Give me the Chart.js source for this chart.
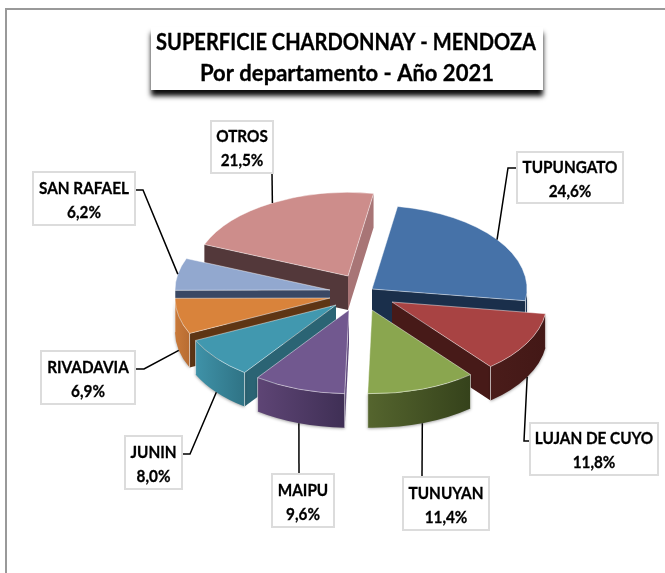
<!DOCTYPE html>
<html lang="es">
<head>
<meta charset="UTF-8">
<title>Superficie Chardonnay - Mendoza</title>
<script src="https://cdn.jsdelivr.net/npm/chart.js"></script>
<style>
    html, body { margin: 0; background: #fff; }
    #wrap { width: 665px; height: 573px; position: relative; }
</style>
</head>
<body>
<div id="wrap"><canvas id="pie3d" width="665" height="573"></canvas></div>
<script>
const departamentos = ['TUPUNGATO', 'LUJAN DE CUYO', 'TUNUYAN', 'MAIPU', 'JUNIN', 'RIVADAVIA', 'SAN RAFAEL', 'OTROS'];
const superficie = [24.6, 11.8, 11.4, 9.6, 8.0, 6.9, 6.2, 21.5];
const tituloLineas = ['SUPERFICIE CHARDONNAY - MENDOZA', 'Por departamento - Año 2021'];

// colours for the top face and the sides of each slice
const topColors = ['#4672a8', '#a84343', '#8aa64f', '#71588f', '#4198af', '#d9833b', '#92a8cf', '#cd8d8b'];
const wallStart = ['#1a2f4b', '#471a18', '#3a4720', '#5a4478', '#2b6474', '#5e3514', '#3a4864', '#53383a'];
const wallEnd = ['#1a2f4b', '#471a18', '#3a4720', '#5a4478', '#2b6474', '#5e3514', '#3a4864', '#a87576'];
const outerLight = ['#24446b', '#4a1c1a', '#55652e', '#5e4575', '#3f92a8', '#c97a3a', '#3a4864', '#a87576'];
const outerDark = ['#1a2f4b', '#431816', '#35421b', '#3f2f55', '#2f7385', '#b86c32', '#3a4864', '#a87576'];

// how far each slice is pulled away from the pie centre, in screen px
const explode = [[7, -5], [27, 8], [7, 16], [-16, 16], [-29, 11], [-35, 4], [-35, -4], [-17, -18]];

const SQUASH = 0.54;
const DEPTH = 34;
const FONT = 'Lato, "Noto Sans", sans-serif';
const TEXT_NARROW = 0.9;

// label boxes: x, y, w, h, then the leader line bend points
const labelBoxes = [
    { x: 517, y: 152, w: 106, h: 51, line: [[517, 168], [508, 168]] },
    { x: 530, y: 423, w: 128, h: 52, line: [[530, 441], [524, 441]] },
    { x: 403, y: 477, w: 86, h: 53, line: [[422, 477]] },
    { x: 272, y: 474, w: 62, h: 53, line: [[299, 474]] },
    { x: 125, y: 436, w: 57, h: 53, line: [[182, 454], [190, 454]] },
    { x: 41, y: 351, w: 94, h: 53, line: [[135, 369], [144, 369]] },
    { x: 33, y: 172, w: 102, h: 53, line: [[135, 190], [143, 190]] },
    { x: 211, y: 121, w: 62, h: 52, line: [[272, 173]] }
];

function pct(v) {
    return v.toFixed(1).replace('.', ',') + '%';
}

// screen position of a point on a slice, radius r at angle a
function project(arc, off, a, r, drop) {
    return [
        arc.x + off[0] + r * Math.cos(a),
        arc.y + off[1] + SQUASH * r * Math.sin(a) + (drop || 0)
    ];
}

function radialWall(ctx, arc, off, a, color) {
    const p0 = project(arc, off, a, 0);
    const p1 = project(arc, off, a, arc.outerRadius);
    ctx.fillStyle = color;
    ctx.beginPath();
    ctx.moveTo(p0[0], p0[1]);
    ctx.lineTo(p1[0], p1[1]);
    ctx.lineTo(p1[0], p1[1] + DEPTH);
    ctx.lineTo(p0[0], p0[1] + DEPTH);
    ctx.closePath();
    ctx.fill();
}

function outerWall(ctx, arc, off, i) {
    const a1 = Math.max(arc.startAngle, 0);
    const a2 = Math.min(arc.endAngle, Math.PI);
    if (a2 <= a1) return;
    const c = project(arc, off, 0, 0);
    const r = arc.outerRadius;
    const left = c[0] + r * Math.cos(a2);
    const right = c[0] + r * Math.cos(a1);
    const grad = ctx.createLinearGradient(left, 0, right, 0);
    grad.addColorStop(0, outerLight[i]);
    grad.addColorStop(1, outerDark[i]);
    ctx.save();
    ctx.shadowColor = 'rgba(0,0,0,0.35)';
    ctx.shadowBlur = 3;
    ctx.shadowOffsetY = 1;
    ctx.fillStyle = grad;
    ctx.beginPath();
    ctx.ellipse(c[0], c[1], r, r * SQUASH, 0, a1, a2);
    ctx.ellipse(c[0], c[1] + DEPTH, r, r * SQUASH, 0, a2, a1, true);
    ctx.closePath();
    ctx.fill();
    ctx.restore();
    // thin light edge where the side meets a radial wall
    ctx.strokeStyle = 'rgba(255,255,255,0.55)';
    ctx.lineWidth = 1;
    [a1, a2].forEach(a => {
        if (a !== arc.startAngle && a !== arc.endAngle) return;
        const p = project(arc, off, a, r);
        ctx.beginPath();
        ctx.moveTo(p[0], p[1]);
        ctx.lineTo(p[0], p[1] + DEPTH);
        ctx.stroke();
    });
}

// bold text squeezed a little, the original face is narrower than Lato
function label(ctx, text, x, y) {
    ctx.save();
    ctx.translate(x, y);
    ctx.scale(TEXT_NARROW, 1);
    ctx.fillText(text, 0, 0);
    ctx.strokeText(text, 0, 0);
    ctx.restore();
}

const pie3dPlugin = {
    id: 'pie3d',
    beforeDatasetsDraw(chart) {
        const ctx = chart.ctx;
        const arcs = chart.getDatasetMeta(0).data;
        const midSin = arc => Math.sin((arc.startAngle + arc.endAngle) / 2);

        // sides first, back to front
        const order = arcs.map((a, i) => i).sort((p, q) => midSin(arcs[p]) - midSin(arcs[q]));
        order.forEach(i => {
            const arc = arcs[i];
            if (Math.cos(arc.startAngle) < 0) radialWall(ctx, arc, explode[i], arc.startAngle, wallStart[i]);
            if (Math.cos(arc.endAngle) > 0) radialWall(ctx, arc, explode[i], arc.endAngle, wallEnd[i]);
            outerWall(ctx, arc, explode[i], i);
        });

        // then the top faces, the library draws each arc in a squashed context
        arcs.forEach((arc, i) => {
            ctx.save();
            ctx.translate(arc.x + explode[i][0], arc.y + explode[i][1]);
            ctx.scale(1, SQUASH);
            ctx.translate(-arc.x, -arc.y);
            arc.draw(ctx);
            ctx.restore();
        });
        return false;
    },
    afterDraw(chart) {
        const ctx = chart.ctx;
        const arcs = chart.getDatasetMeta(0).data;

        // outer frame, only top and left show
        ctx.strokeStyle = '#999';
        ctx.lineWidth = 2;
        ctx.beginPath();
        ctx.moveTo(6, 573);
        ctx.lineTo(6, 9);
        ctx.lineTo(665, 9);
        ctx.stroke();

        // title box
        ctx.save();
        ctx.shadowColor = 'rgba(0,0,0,0.95)';
        ctx.shadowBlur = 5;
        ctx.shadowOffsetY = 6;
        ctx.fillStyle = '#fff';
        ctx.fillRect(151, 27, 392, 63);
        ctx.restore();
        ctx.fillStyle = '#000';
        ctx.strokeStyle = '#000';
        ctx.lineWidth = 0.3;
        ctx.textAlign = 'center';
        ctx.textBaseline = 'middle';
        ctx.font = 'bold 23px ' + FONT;
        ctx.fillText(tituloLineas[0], 346, 43, 380);
        ctx.strokeText(tituloLineas[0], 346, 43, 380);
        ctx.fillText(tituloLineas[1], 347, 74, 294);
        ctx.strokeText(tituloLineas[1], 347, 74, 294);

        // leader lines and label boxes
        arcs.forEach((arc, i) => {
            const box = labelBoxes[i];
            const mid = (arc.startAngle + arc.endAngle) / 2;
            const drop = Math.sin(mid) > 0.2 ? DEPTH : 0;
            const end = project(arc, explode[i], mid, arc.outerRadius, drop);
            ctx.strokeStyle = '#000';
            ctx.lineWidth = 1.5;
            ctx.beginPath();
            box.line.forEach((p, n) => n ? ctx.lineTo(p[0], p[1]) : ctx.moveTo(p[0], p[1]));
            ctx.lineTo(end[0], end[1]);
            ctx.stroke();

            ctx.fillStyle = '#fff';
            ctx.fillRect(box.x, box.y, box.w, box.h);
            ctx.strokeStyle = '#dcdcdc';
            ctx.lineWidth = 2;
            ctx.strokeRect(box.x, box.y, box.w, box.h);

            ctx.fillStyle = '#000';
            ctx.strokeStyle = '#000';
            ctx.lineWidth = 0.3;
            ctx.font = 'bold 17px ' + FONT;
            const cx = box.x + box.w / 2;
            label(ctx, departamentos[i], cx, box.y + box.h / 2 - 10);
            label(ctx, pct(superficie[i]), cx, box.y + box.h / 2 + 14);
        });
    }
};

new Chart(document.getElementById('pie3d'), {
    type: 'pie',
    data: {
        labels: departamentos,
        datasets: [{
            data: superficie,
            backgroundColor: topColors,
            borderColor: 'rgba(255,255,255,0.6)',
            borderWidth: 1,
            hoverOffset: 0,
            clip: false
        }]
    },
    options: {
        responsive: false,
        animation: false,
        events: [],
        rotation: 9.5,
        radius: 155,
        layout: { padding: { left: 65, top: 15 } },
        plugins: {
            legend: { display: false },
            tooltip: { enabled: false }
        }
    },
    plugins: [pie3dPlugin]
});
</script>
</body>
</html>
